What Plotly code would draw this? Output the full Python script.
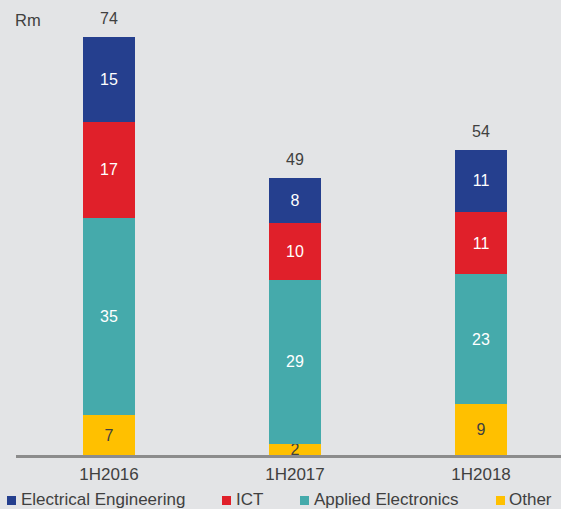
import plotly.graph_objects as go

categories = ["1H2016", "1H2017", "1H2018"]
other = [7, 2, 9]
applied = [35, 29, 23]
ict = [17, 10, 11]
electrical = [15, 8, 11]
totals = [74, 49, 54]

series = [
    ("Other", other, "#ffc000", "#404040"),
    ("Applied Electronics", applied, "#45aaab", "white"),
    ("ICT", ict, "#e0202a", "white"),
    ("Electrical Engineering", electrical, "#253f8e", "white"),
]

FONT = "Liberation Sans, Arial, sans-serif"
fig = go.Figure()
for name, vals, col, tcol in series:
    fig.add_trace(go.Bar(
        x=categories, y=vals, name=name, marker_color=col,
        marker_line_width=0, width=0.28,
        text=[str(v) for v in vals], textposition="inside", textangle=0,
        insidetextanchor="middle", constraintext="none",
        textfont=dict(color=tcol, size=16, family=FONT),
        showlegend=False, hoverinfo="skip",
    ))

for c, t in zip(categories, totals):
    fig.add_annotation(x=c, y=t, text=str(t), showarrow=False,
                       yanchor="bottom", yshift=8,
                       font=dict(size=16, color="#404040", family=FONT))

fig.add_annotation(xref="paper", yref="paper", x=-0.006, y=0.956, text="Rm",
                   showarrow=False, xanchor="left", yanchor="middle",
                   font=dict(size=16.5, color="#404040", family=FONT))

# legend (pixel layout: plot area x 16..561, y 0..455)
PX0, PW, PH = 16, 545, 455
legend_items = [("Electrical Engineering", "#253f8e", 7, 20),
                ("ICT", "#e0202a", 222, 235),
                ("Applied Electronics", "#45aaab", 300, 313),
                ("Other", "#ffc000", 496, 508)]
for name, col, sq, tx in legend_items:
    fig.add_shape(type="rect", xref="paper", yref="paper",
                  x0=(sq - PX0) / PW, x1=(sq + 9 - PX0) / PW,
                  y0=(PH - 505) / PH, y1=(PH - 496) / PH,
                  fillcolor=col, line_width=0)
    fig.add_annotation(xref="paper", yref="paper",
                       x=(tx - 1 - PX0) / PW, y=(PH - 499.5) / PH,
                       xanchor="left", yanchor="middle", showarrow=False,
                       text=name,
                       font=dict(size=17, color="#404040", family=FONT))

fig.update_layout(
    barmode="stack",
    width=561, height=509,
    margin=dict(l=16, r=0, t=0, b=54),
    paper_bgcolor="#e3e4e6", plot_bgcolor="#e3e4e6",
    uniformtext=dict(mode="show", minsize=16),
    xaxis=dict(range=[-0.5, 2.43], showline=True, linecolor="#8c8c8c",
               linewidth=3, showgrid=False, ticks="", ticklabelstandoff=2,
               tickfont=dict(size=17, color="#404040", family=FONT)),
    yaxis=dict(range=[0, 80.5], visible=False),
    font=dict(family=FONT),
)

fig.write_html("out.html", config={"displayModeBar": False},
               post_script="document.body.style.margin='0';document.body.style.overflow='hidden';")
